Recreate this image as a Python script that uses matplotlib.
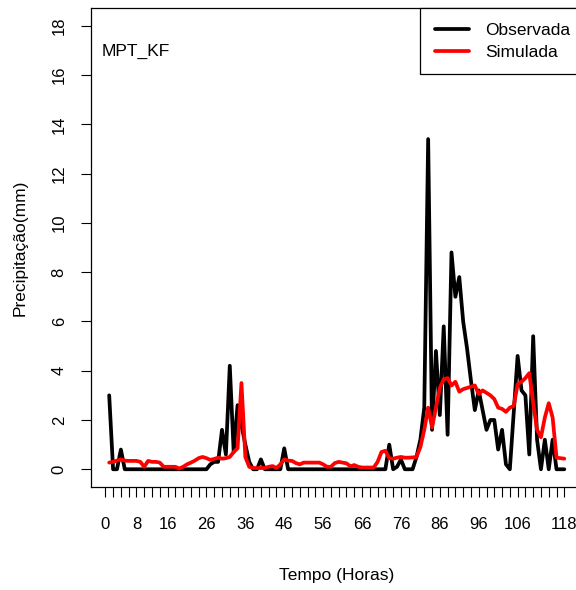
import matplotlib

matplotlib.use("Agg")
import matplotlib.pyplot as plt
import numpy as np

plt.rcParams["font.family"] = ["Liberation Sans", "DejaVu Sans"]
plt.rcParams["font.size"] = 12.5

# hourly precipitation, observed vs simulated (MPT_KF run)
horas = np.arange(1, 119)
observada = [
    3.0, 0.0, 0.0, 0.8, 0.0, 0.0, 0.0, 0.0, 0.0, 0.0,
    0.0, 0.0, 0.0, 0.0, 0.0, 0.0, 0.0, 0.0, 0.0, 0.0,
    0.0, 0.0, 0.0, 0.0, 0.0, 0.0, 0.2, 0.3, 0.3, 1.6,
    0.6, 4.2, 0.7, 2.6, 1.8, 1.0, 0.3, 0.0, 0.0, 0.4,
    0.0, 0.0, 0.0, 0.0, 0.0, 0.85, 0.0, 0.0, 0.0, 0.0,
    0.0, 0.0, 0.0, 0.0, 0.0, 0.0, 0.0, 0.0, 0.0, 0.0,
    0.0, 0.0, 0.0, 0.0, 0.0, 0.0, 0.0, 0.0, 0.0, 0.0,
    0.0, 0.0, 1.0, 0.0, 0.1, 0.4, 0.0, 0.0, 0.0, 0.5,
    1.2, 2.5, 13.4, 1.6, 4.8, 2.2, 5.8, 1.4, 8.8, 7.0,
    7.8, 6.0, 4.9, 3.6, 2.4, 3.2, 2.4, 1.6, 2.0, 2.0,
    0.8, 1.6, 0.2, 0.0, 2.3, 4.6, 3.2, 3.0, 0.6, 5.4,
    1.2, 0.0, 1.2, 0.0, 1.2, 0.0, 0.0, 0.0,
]
simulada = [
    0.27, 0.3, 0.35, 0.4, 0.35, 0.34, 0.34, 0.34, 0.3, 0.1,
    0.34, 0.3, 0.3, 0.27, 0.1, 0.1, 0.1, 0.1, 0.03, 0.1,
    0.2, 0.27, 0.35, 0.45, 0.5, 0.45, 0.38, 0.42, 0.47, 0.43,
    0.45, 0.5, 0.7, 0.85, 3.5, 0.5, 0.1, 0.05, 0.05, 0.05,
    0.05, 0.1, 0.13, 0.05, 0.2, 0.4, 0.35, 0.34, 0.25, 0.2,
    0.27, 0.27, 0.27, 0.27, 0.27, 0.2, 0.1, 0.1, 0.25, 0.3,
    0.27, 0.24, 0.12, 0.17, 0.1, 0.07, 0.07, 0.07, 0.07, 0.3,
    0.7, 0.75, 0.45, 0.43, 0.47, 0.5, 0.47, 0.47, 0.48, 0.5,
    0.9, 1.6, 2.5, 1.7, 2.5, 3.3, 3.65, 3.7, 3.4, 3.55,
    3.15, 3.25, 3.3, 3.35, 3.4, 3.05, 3.2, 3.1, 3.0, 2.85,
    2.5, 2.45, 2.33, 2.5, 2.57, 3.45, 3.55, 3.7, 3.9, 2.7,
    1.6, 1.3, 2.1, 2.68, 2.1, 0.47, 0.45, 0.43,
]
xticks = np.arange(0, 119, 2)
xtick_labels = [0, 8, 16, 26, 36, 46, 56, 66, 76, 86, 96, 106, 118]
yticks = np.arange(0, 19, 2)

fig = plt.figure(figsize=(5.76, 5.9), dpi=100)
ax = fig.add_axes([91 / 576, 103 / 590, 491.5 / 576, 479 / 590])

ax.plot(horas, observada, color="black", lw=2.7, label="Observada",
        solid_joinstyle="round", solid_capstyle="round")
ax.plot(horas, simulada, color="red", lw=2.7, label="Simulada",
        solid_joinstyle="round", solid_capstyle="round")

ax.set_xlim(-3.68, 122.68)
ax.set_ylim(-0.72, 18.72)

ax.set_xticks(xticks)
ax.set_xticklabels([str(t) if t in xtick_labels else "" for t in xticks])
ax.set_yticks(yticks)
ax.set_yticklabels([str(v) for v in yticks], rotation=90, va="center")
ax.tick_params(axis="both", direction="out", length=7.5, width=0.8,
               labelsize=12)
ax.tick_params(axis="x", pad=14)
ax.tick_params(axis="y", pad=10)
for sp in ax.spines.values():
    sp.set_linewidth(0.9)

ax.set_xlabel("Tempo (Horas)", fontsize=12.5, labelpad=26)
ax.set_ylabel("Precipitação(mm)", fontsize=12.5, labelpad=17)

ax.text(-1.0, 16.95, "MPT_KF", fontsize=12.5, ha="left", va="center")

leg = ax.legend(loc="upper left", bbox_to_anchor=(420 / 576, 1 - 8 / 590),
                bbox_transform=fig.transFigure, borderaxespad=0,
                fancybox=False, framealpha=1, edgecolor="black",
                handlelength=1.95, handletextpad=0.95, borderpad=0.85,
                labelspacing=0.38, fontsize=12.5)
leg.get_frame().set_linewidth(0.9)

fig.savefig("out.png", dpi=100)
